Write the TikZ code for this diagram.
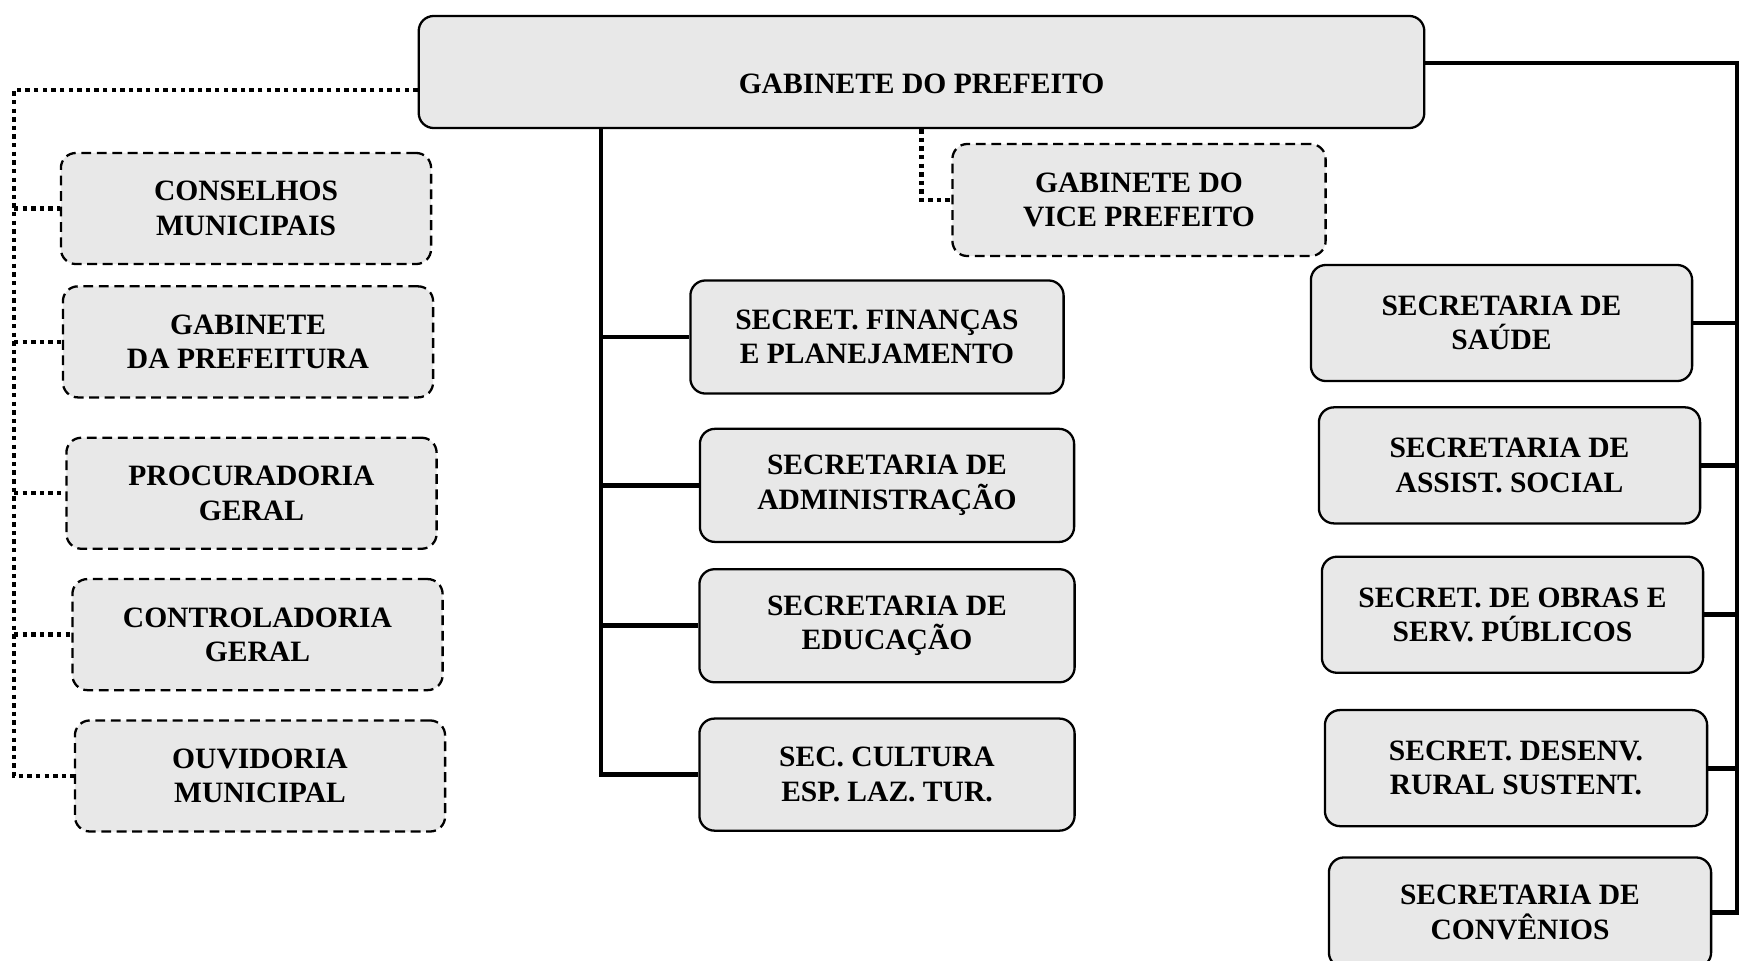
\documentclass[tikz,border=0pt]{standalone}
\usepackage{fontspec}
\setmainfont{Liberation Serif}
\usepackage{tikz}
\usetikzlibrary{positioning}

\begin{document}
\begin{tikzpicture}[x=0.01cm, y=-0.01cm,
    unit/.style={rectangle, rounded corners=0.15cm, draw, line width=0.65pt, fill=black!9,
        align=center, font=\bfseries\fontsize{8.4}{9.8}\selectfont, inner sep=0pt},
    staff/.style={unit, dash pattern=on 2.8pt off 1.6pt},
    link/.style={line width=1.4pt},
    dotline/.style={line width=1.25pt, dash pattern=on 1.25pt off 1.2pt}]
    \useasboundingbox (0,0) rectangle (1742,960);

    \node[unit, minimum width=10.05cm, minimum height=1.12cm, text height=0.43cm, text depth=0pt] (gp) at (921.5,72) {GABINETE DO PREFEITO};

    \node[staff, minimum width=3.70cm, minimum height=1.11cm] (cons) at (246,208.5) {CONSELHOS\\MUNICIPAIS};
    \node[staff, minimum width=3.70cm, minimum height=1.11cm] (gabp) [below=0.20cm of cons, xshift=0.02cm] {GABINETE\\DA PREFEITURA};
    \node[staff, minimum width=3.70cm, minimum height=1.11cm] (proc) [below=0.38cm of gabp, xshift=0.035cm] {PROCURADORIA\\GERAL};
    \node[staff, minimum width=3.70cm, minimum height=1.11cm] (ctrl) [below=0.28cm of proc, xshift=0.06cm] {CONTROLADORIA\\GERAL};
    \node[staff, minimum width=3.70cm, minimum height=1.11cm] (ouv) [below=0.28cm of ctrl, xshift=0.025cm] {OUVIDORIA\\MUNICIPAL};

    \node[staff, minimum width=3.73cm, minimum height=1.12cm] (vice) at (1139,200) {GABINETE DO\\VICE PREFEITO};

    \node[unit, minimum width=3.73cm, minimum height=1.13cm] (fin) at (877,337) {SECRET. FINANÇAS\\E PLANEJAMENTO};
    \node[unit, minimum width=3.74cm, minimum height=1.13cm] (adm) [below=0.33cm of fin, xshift=0.10cm] {SECRETARIA DE\\ADMINISTRAÇÃO};
    \node[unit, minimum width=3.75cm, minimum height=1.13cm] (edu) [below=0.25cm of adm] {SECRETARIA DE\\EDUCAÇÃO};
    \node[unit, minimum width=3.75cm, minimum height=1.12cm] (cult) [below=0.34cm of edu] {SEC. CULTURA\\ESP. LAZ. TUR.};

    \node[unit, minimum width=3.81cm, minimum height=1.16cm] (sau) at (1501.5,323) {SECRETARIA DE\\SAÚDE};
    \node[unit, minimum width=3.81cm, minimum height=1.16cm] (ass) [below=0.24cm of sau, xshift=0.08cm] {SECRETARIA DE\\ASSIST. SOCIAL};
    \node[unit, minimum width=3.81cm, minimum height=1.16cm] (obr) [below=0.31cm of ass, xshift=0.03cm] {SECRET. DE OBRAS E\\SERV. PÚBLICOS};
    \node[unit, minimum width=3.82cm, minimum height=1.16cm] (des) [below=0.35cm of obr, xshift=0.035cm] {SECRET. DESENV.\\RURAL SUSTENT.};
    \node[unit, minimum width=3.82cm, minimum height=1.10cm] (conv) [below=0.29cm of des, xshift=0.04cm] {SECRETARIA DE\\CONVÊNIOS};

    \coordinate (lx) at (14,0);
    \coordinate (mx) at (601,0);
    \coordinate (rx) at (1737,0);

    \draw[dotline] ([yshift=-0.18cm]gp.west) -| (lx |- ouv.west) -- (ouv.west);
    \draw[dotline] (lx |- cons.west) -- (cons.west);
    \draw[dotline] (lx |- gabp.west) -- (gabp.west);
    \draw[dotline] (lx |- proc.west) -- (proc.west);
    \draw[dotline] (lx |- ctrl.west) -- (ctrl.west);

    \draw[dotline] (gp.south) |- (vice.west);

    \draw[link] (mx |- gp.south) -- (mx |- cult.west) -- (cult.west);
    \draw[link] (mx |- fin.west) -- (fin.west);
    \draw[link] (mx |- adm.west) -- (adm.west);
    \draw[link] (mx |- edu.west) -- (edu.west);

    \draw[link] ([yshift=0.09cm]gp.east) -| (rx |- conv.east) -- (conv.east);
    \draw[link] (sau.east) -- (rx |- sau.east);
    \draw[link] (ass.east) -- (rx |- ass.east);
    \draw[link] (obr.east) -- (rx |- obr.east);
    \draw[link] (des.east) -- (rx |- des.east);
\end{tikzpicture}
\end{document}
